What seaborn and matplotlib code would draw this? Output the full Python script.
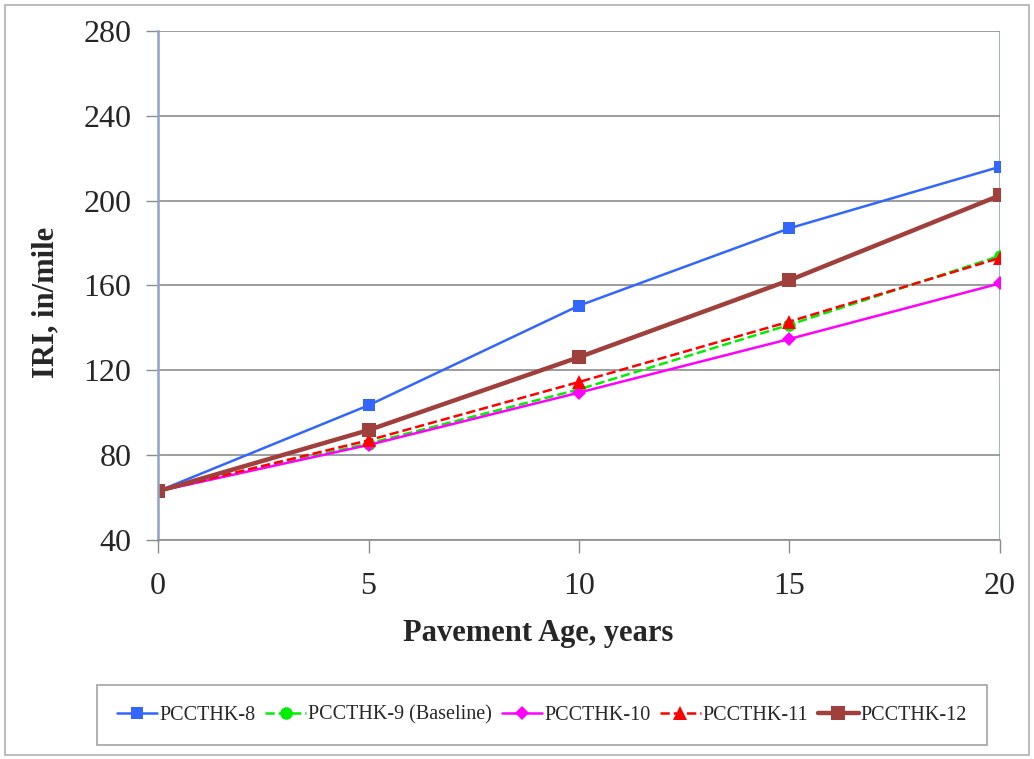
import pandas as pd
import matplotlib.pyplot as plt
import seaborn as sns
from matplotlib.patches import Rectangle

age = [0, 5, 10, 15, 20]
pccthk_8 = [63, 103.5, 150.5, 187, 216]
pccthk_9 = [63, 85.5, 111, 141.5, 174]
pccthk_10 = [63, 84.8, 109.5, 134.8, 161]
pccthk_11 = [63, 87, 114.5, 143, 173]
pccthk_12 = [63, 91.8, 126.2, 162.5, 202.5]

names = ["PCCTHK-8", "PCCTHK-9 (Baseline)", "PCCTHK-10", "PCCTHK-11", "PCCTHK-12"]
series = [pccthk_8, pccthk_9, pccthk_10, pccthk_11, pccthk_12]

df = pd.concat([pd.DataFrame({"age": age, "iri": s, "case": n}) for n, s in zip(names, series)])

styles = {
    "PCCTHK-8": dict(color="#3366FF", marker="s", ls="-", lw=1.8, ms=9),
    "PCCTHK-9 (Baseline)": dict(color="#00EE00", marker="o", ls="--", lw=1.8, ms=9),
    "PCCTHK-10": dict(color="#FF00FF", marker="D", ls="-", lw=1.8, ms=7),
    "PCCTHK-11": dict(color="#FF0000", marker="^", ls="--", lw=1.8, ms=10),
    "PCCTHK-12": dict(color="#A0403C", marker="s", ls="-", lw=3.2, ms=10),
}

sns.set_style("white")
plt.rcParams["font.family"] = ["Liberation Serif", "DejaVu Serif"]

fig = plt.figure(figsize=(10.34, 7.59), dpi=100)
ax = fig.add_axes([158 / 1034, 1 - 540 / 759, 842 / 1034, 509 / 759])

for n in names:
    st = styles[n]
    sns.lineplot(data=df[df["case"] == n], x="age", y="iri", ax=ax, label=n,
                 color=st["color"], marker=st["marker"], linestyle=st["ls"],
                 linewidth=st["lw"], markersize=st["ms"], markeredgewidth=0,
                 legend=False)

ax.set_xlim(0, 20)
ax.set_ylim(40, 280)
ax.set_xticks([0, 5, 10, 15, 20])
ax.set_yticks(range(40, 281, 40))
ax.grid(axis="y", color="#8C8C8C", lw=1.2)
ax.set_axisbelow(True)
ax.tick_params(axis="both", labelsize=23, direction="out", length=9, width=1, color="#8C8C8C",
               left=True, bottom=True)
ax.tick_params(axis="x", pad=14)
ax.tick_params(axis="y", pad=10)
for side in ["top", "right"]:
    ax.spines[side].set_visible(False)
ax.spines["left"].set_color("#8EA4C8")
ax.spines["left"].set_linewidth(1.8)
ax.spines["bottom"].set_color("#8C8C8C")
ax.spines["bottom"].set_linewidth(1.2)
ax.axvline(20, color="#8EA4C8", lw=1.2, zorder=0)

ax.set_xlabel("Pavement Age, years", fontsize=22, fontweight="bold")
ax.set_ylabel("IRI, in/mile", fontsize=22, fontweight="bold")
ax.xaxis.set_label_coords((538 - 158) / 842, -(619 - 540) / 509)
ax.yaxis.set_label_coords(-(158 - 60) / 842, (540 - 302) / 509)

handles, labels = ax.get_legend_handles_labels()
leg = fig.legend(handles, labels, loc="center", bbox_to_anchor=(542 / 1034, 1 - 715 / 759),
                 ncol=5, fontsize=14.5, frameon=True, fancybox=False, handlelength=2.0,
                 handletextpad=0.1, columnspacing=0.5, borderpad=1.0)
leg.get_frame().set_edgecolor("#8C8C8C")
leg.get_frame().set_linewidth(1.2)

fig.patches.append(Rectangle((5 / 1034, 4 / 759), 1024 / 1034, 750 / 759, transform=fig.transFigure,
                             fill=False, edgecolor="#B0B0B0", lw=1.2))

fig.savefig("out.png", dpi=100)
